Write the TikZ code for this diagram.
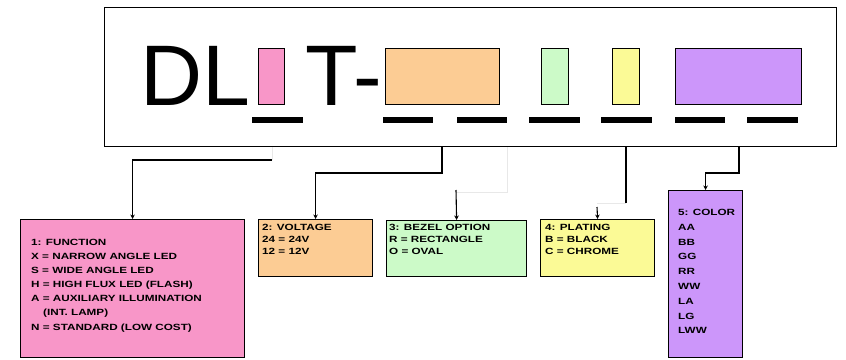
\documentclass[tikz,border=0pt]{standalone}
\usepackage{fontspec}
\setmainfont{Liberation Sans}
\newfontfamily\labfont[FakeStretch=1.3]{Liberation Sans}
\usetikzlibrary{arrows.meta}
\definecolor{cpink}{RGB}{248,150,200}
\definecolor{corange}{RGB}{252,204,148}
\definecolor{cgreen}{RGB}{204,250,200}
\definecolor{cyellow}{RGB}{251,250,150}
\definecolor{cpurple}{RGB}{204,150,250}
\definecolor{faintgray}{RGB}{232,232,232}
\tikzset{
  box/.style={draw=black, line width=1.2pt, inner sep=0pt, anchor=north west},
  slot/.style={draw=black, line width=1pt, inner sep=0pt, anchor=north west},
  dashbar/.style={line width=6pt},
  lab/.style={anchor=north west, inner sep=0pt, align=left, font=\labfont\bfseries\fontsize{9}{#1}\selectfont},
  lab/.default=14,
  conn/.style={draw=black, line width=1.1pt, -{Stealth[length=4.5pt,width=4.5pt]}},
  connplain/.style={draw=black, line width=1.1pt},
  faint/.style={draw=faintgray, line width=1pt},
  big/.style={anchor=base west, inner sep=0pt, font=\fontsize{86}{86}\selectfont}
}
\begin{document}
\begin{tikzpicture}[x=1pt,y=-1pt]
\useasboundingbox[fill=white] (0,0) rectangle (846,359);
% main box
\node[box, minimum width=732, minimum height=139] (main) at (104,7) {};
\node[big] (dl) at (140,105) {DL};
\node[big] (tdash) at (305,105) {T-};
% coloured slots
\node[slot, fill=cpink, minimum width=26, minimum height=56] (spink) at (258,48) {};
\node[slot, fill=corange, minimum width=114, minimum height=56] (sorange) at (385,48) {};
\node[slot, fill=cgreen, minimum width=27, minimum height=56] (sgreen) at (541,48) {};
\node[slot, fill=cyellow, minimum width=27, minimum height=56] (syellow) at (612,48) {};
\node[slot, fill=cpurple, minimum width=126, minimum height=56] (spurple) at (675,48) {};
% dashes
\foreach \a/\b in {252/303, 383/433, 457/507, 529/580, 601/652, 675/725, 747/798}
  \draw[dashbar] (\a,120) -- (\b,120);
% lower boxes
\node[box, fill=cpink, minimum width=224, minimum height=138] (pink) at (20,219) {};
\node[box, fill=corange, minimum width=114, minimum height=57] (orange) at (258,219) {};
\node[box, fill=cgreen, minimum width=140, minimum height=56] (green) at (386,220) {};
\node[box, fill=cyellow, minimum width=114, minimum height=57] (yellow) at (540,219) {};
\node[box, fill=cpurple, minimum width=74, minimum height=167] (purple) at (668,190) {};
% texts
\node[lab=14.1] (tpink) at (31,239) {1: FUNCTION\\
X = NARROW ANGLE LED\\
S = WIDE ANGLE LED\\
H = HIGH FLUX LED (FLASH)\\
A = AUXILIARY ILLUMINATION\\
\hspace*{12pt}(INT. LAMP)\\
N = STANDARD (LOW COST)};
\node[lab=12.2] (torange) at (262,224) {2: VOLTAGE\\24 = 24V\\12 = 12V};
\node[lab=12.2] (tgreen) at (389,224) {3: BEZEL OPTION\\R = RECTANGLE\\O = OVAL};
\node[lab=12.2] (tyellow) at (545,224) {4: PLATING\\B = BLACK\\C = CHROME};
\node[lab=14.8] (tpurple) at (678,209) {5: COLOR\\AA\\BB\\GG\\RR\\WW\\LA\\LG\\LWW};
% connectors
\coordinate (p1) at (272,160);
\draw[faint] (main.south -| p1) -- (p1);
\draw[conn] (p1) -| (pink.north);
\coordinate (o1) at (442,173);
\draw[conn] (main.south -| o1) -- (o1) -| (orange.north);
\coordinate (g1) at (507,192);
\coordinate (g2) at (456,190);
\draw[faint] (main.south -| g1) -- (g1) -- (g1 -| g2);
\draw[conn] (g2) -- (green.north);
\coordinate (y1) at (626,203);
\coordinate (y2) at (597,207);
\draw[connplain] (main.south -| y1) -- (y1);
\draw[faint] (y1) -- (y1 -| y2);
\draw[conn] (y2) -- (yellow.north);
\coordinate (u1) at (739,173);
\draw[conn] (main.south -| u1) -- (u1) -| (purple.north);
\end{tikzpicture}
\end{document}
